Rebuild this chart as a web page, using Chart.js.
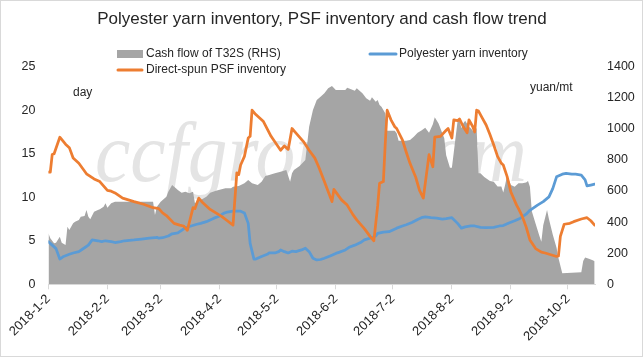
<!DOCTYPE html>
<html><head><meta charset="utf-8">
<script src="https://cdn.jsdelivr.net/npm/chart.js@4.4.1/dist/chart.umd.min.js"></script>
<style>html,body{margin:0;padding:0;background:#fff;}canvas{display:block;}</style>
</head><body>
<canvas id="c" width="643" height="357"></canvas>
<script>
const baseYear = 2018;
const chartTitle = 'Polyester yarn inventory, PSF inventory and cash flow trend';
const seriesNames = ['Cash flow of T32S (RHS)', 'Polyester yarn inventory', 'Direct-spun PSF inventory'];
const xTickLabels = ['2018-1-2','2018-2-2','2018-3-2','2018-4-2','2018-5-2','2018-6-2','2018-7-2','2018-8-2','2018-9-2','2018-10-2'];
const leftTicks = [0,5,10,15,20,25];
const rightTicks = [0,200,400,600,800,1000,1200,1400];

const cashDates = ['1-2','1-3','1-5','1-6','1-8','1-9','1-11','1-12','1-13','1-15','1-16','1-18','1-19','1-21','1-22','1-23','1-24','1-26','1-28','1-29','1-31','2-1','2-2','2-4','2-6','2-26','2-27','2-28','3-2','3-5','3-6','3-8','3-10','3-11','3-13','3-15','3-17','3-19','3-20','3-21','3-23','3-26','3-28','3-31','4-3','4-5','4-8','4-9','4-12','4-15','4-17','4-19','4-22','4-24','4-26','4-28','5-1','5-4','5-7','5-9','5-10','5-11','5-14','5-17','5-19','5-21','5-23','5-25','5-27','5-29','5-31','6-2','6-7','6-8','6-10','6-12','6-13','6-16','6-18','6-20','6-21','6-23','6-24','6-25','6-26','6-27','6-28','6-29','7-3','7-4','7-5','7-9','7-11','7-13','7-15','7-17','7-19','7-21','7-23','7-24','7-26','7-29','7-30','8-1','8-2','8-3','8-5','8-6','8-7','8-8','8-9','8-11','8-12','8-13','8-15','8-16','8-17','8-19','8-22','8-24','8-26','8-28','8-29','8-30','8-31','9-1','9-2','9-4','9-6','9-8','9-10','9-11','9-12','9-13','9-15','9-17','9-18','9-19','9-21','9-22','9-24','9-26','9-27','9-29','10-9','10-10','10-11','10-13','10-15','10-16'];
const cashValues = [328,296,264,268,306,268,253,371,349,392,403,414,435,439,478,435,418,467,478,483,499,521,493,521,531,531,446,499,531,564,596,639,618,607,589,596,585,596,521,531,542,564,589,602,611,618,618,628,632,650,671,650,639,660,697,703,714,724,735,660,714,735,761,800,1014,1121,1186,1207,1229,1261,1276,1250,1250,1265,1255,1246,1261,1229,1197,1181,1203,1175,1186,1154,1143,1121,1100,988,988,972,924,924,928,950,975,990,1008,975,1030,1074,1035,940,830,750,750,850,1050,1060,1004,1036,1052,1014,1004,988,1004,714,714,690,665,660,630,630,590,640,700,671,639,628,650,650,655,665,628,470,390,310,274,380,478,420,320,235,170,71,77,150,172,165,155,148];

const yarnDates = ['1-2','1-4','1-6','1-8','1-10','1-13','1-15','1-18','1-21','1-23','1-25','1-28','1-30','2-1','2-4','2-6','2-9','2-11','2-16','2-20','2-24','2-27','2-28','3-1','3-3','3-6','3-8','3-11','3-13','3-15','3-18','3-21','3-23','3-26','3-28','3-30','4-2','4-4','4-6','4-9','4-13','4-15','4-17','4-18','4-20','4-21','4-24','4-27','4-28','5-1','5-3','5-4','5-6','5-8','5-10','5-12','5-15','5-17','5-19','5-21','5-23','5-25','5-27','5-30','6-2','6-4','6-7','6-9','6-12','6-15','6-17','6-20','6-23','6-24','6-27','6-30','7-2','7-4','7-7','7-9','7-12','7-15','7-17','7-19','7-22','7-25','7-28','7-30','8-2','8-5','8-7','8-9','8-12','8-14','8-17','8-20','8-24','8-27','8-29','9-1','9-4','9-7','9-10','9-12','9-16','9-19','9-22','9-24','9-26','9-29','10-1','10-4','10-6','10-9','10-11','10-12','10-14','10-16'];
const yarnValues = [4.9,4.5,4.1,2.9,3.2,3.45,3.6,3.75,4.2,4.5,5.1,5.0,4.9,5.0,4.9,4.8,4.9,5.0,5.1,5.2,5.3,5.35,5.4,5.3,5.35,5.55,5.8,5.9,6.2,6.5,6.7,6.9,7.0,7.2,7.4,7.6,7.85,8.15,8.3,8.4,8.4,8.2,7.0,4.7,2.9,2.9,3.2,3.45,3.6,3.6,3.75,3.95,3.75,3.6,3.8,3.75,3.95,4.15,3.75,3.0,2.8,2.85,3.0,3.25,3.55,3.7,3.95,4.25,4.5,4.8,5.1,5.3,5.55,5.85,6.0,6.05,6.25,6.45,6.7,6.85,7.1,7.45,7.65,7.75,7.65,7.6,7.5,7.55,7.65,7.0,6.45,6.6,6.7,6.7,6.55,6.5,6.55,6.7,6.75,7.05,7.3,7.6,8.05,8.5,9.1,9.5,10.05,11.0,12.35,12.65,12.75,12.65,12.65,12.55,12.0,11.3,11.4,11.5];

const psfDates = ['1-2','1-3','1-4','1-5','1-8','1-11','1-13','1-15','1-18','1-20','1-22','1-26','1-29','2-2','2-4','2-6','2-10','2-16','2-21','2-26','3-1','3-3','3-5','3-9','3-12','3-14','3-16','3-19','3-20','3-22','3-24','3-26','3-28','3-31','4-3','4-6','4-9','4-11','4-12','4-13','4-15','4-17','4-18','4-19','4-21','4-25','4-29','5-4','5-6','5-8','5-10','5-12','5-16','5-19','5-22','5-24','5-27','5-31','6-1','6-3','6-5','6-8','6-11','6-13','6-17','6-20','6-22','6-24','6-25','6-27','6-28','6-29','7-1','7-3','7-4','7-7','7-9','7-11','7-14','7-16','7-18','7-21','7-23','7-24','7-27','7-30','7-31','8-2','8-3','8-5','8-6','8-8','8-10','8-11','8-13','8-14','8-15','8-16','8-18','8-20','8-22','8-24','8-26','8-28','8-29','8-31','9-2','9-5','9-6','9-8','9-10','9-12','9-15','9-18','9-20','9-23','9-26','9-27','9-28','9-30','10-3','10-5','10-9','10-12','10-14','10-16'];
const psfValues = [12.9,12.9,14.9,15.0,16.9,16.1,15.7,14.5,13.9,13.3,12.7,12.1,11.8,10.8,10.7,10.5,9.9,9.5,9.2,8.8,8.7,8.2,7.9,7.0,6.8,6.7,6.2,8.8,8.7,9.9,9.4,9.0,8.6,8.2,7.8,7.3,6.8,12.8,12.6,13.7,14.7,16.8,17.0,20.0,19.5,18.7,17.0,15.4,15.9,15.5,17.9,17.4,16.4,15.4,14.5,13.5,11.8,9.5,10.9,10.3,9.7,9.1,8.0,7.4,6.4,5.5,5.0,9.0,11.6,11.8,16.2,20.0,18.9,18.1,17.9,16.6,15.2,13.9,12.3,10.8,9.9,14.9,13.5,16.9,17.0,17.7,17.9,16.8,18.9,18.8,19.0,18.1,17.4,18.9,18.1,17.5,20.0,19.9,19.1,18.3,17.2,16.0,14.7,13.9,13.7,12.4,10.6,9.1,8.7,7.8,6.6,5.1,4.1,3.7,3.6,3.4,3.2,3.25,5.5,6.9,7.0,7.2,7.5,7.65,7.3,6.8];

const DAY = 86400000;
const startUTC = Date.UTC(baseYear, 0, 2);
function mdToDay(md) { const p = md.split('-').map(Number); return (Date.UTC(baseYear, p[0]-1, p[1]) - startUTC) / DAY; }
function ymdToDay(s) { const p = s.split('-').map(Number); return (Date.UTC(p[0], p[1]-1, p[2]) - startUTC) / DAY; }
function pts(dates, vals) { return dates.map((d, i) => ({ x: mdToDay(d), y: vals[i] })); }
const tickPos = xTickLabels.map(ymdToDay);
const lastDay = 287.2;

const FONT = '"Liberation Sans", Arial, sans-serif';
const TXT = '#262626';

const decor = {
  id: 'decor',
  beforeDraw(chart) {
    const ctx = chart.ctx;
    ctx.save(); ctx.fillStyle = '#fff'; ctx.fillRect(0, 0, chart.width, chart.height); ctx.restore();
  },
  beforeDatasetsDraw(chart) {
    const ctx = chart.ctx;
    ctx.save();
    ctx.font = 'italic 84px "Liberation Serif", serif';
    const t = 'ccfgroup.com';
    const w = ctx.measureText(t).width;
    ctx.translate(95, 181);
    ctx.scale(432 / w, 1);
    ctx.fillStyle = '#e4e4e4';
    ctx.textBaseline = 'alphabetic';
    ctx.fillText(t, 0, 0);
    ctx.restore();
  },
  afterDraw(chart) {
    const ctx = chart.ctx;
    ctx.save();
    ctx.fillStyle = TXT;
    ctx.textBaseline = 'middle';
    ctx.font = '17px ' + FONT;
    ctx.textAlign = 'center';
    ctx.fillText(chartTitle, 322, 19);
    ctx.textAlign = 'left';
    ctx.font = '12px ' + FONT;
    ctx.fillStyle = '#a5a5a5';
    ctx.fillRect(117, 50, 26, 8);
    ctx.lineWidth = 3; ctx.lineCap = 'round';
    ctx.strokeStyle = '#5b9bd5';
    ctx.beginPath(); ctx.moveTo(370, 54); ctx.lineTo(396, 54); ctx.stroke();
    ctx.strokeStyle = '#ed7d31';
    ctx.beginPath(); ctx.moveTo(118, 70); ctx.lineTo(142, 70); ctx.stroke();
    ctx.fillStyle = TXT;
    ctx.fillText(seriesNames[0], 146, 54);
    ctx.fillText(seriesNames[1], 399, 54);
    ctx.fillText(seriesNames[2], 146, 70);
    ctx.fillText('day', 73, 93);
    ctx.fillText('yuan/mt', 530, 88);
    ctx.strokeStyle = '#d9d9d9'; ctx.lineWidth = 1;
    ctx.strokeRect(0.5, 0.5, chart.width - 1, chart.height - 1);
    ctx.restore();
  }
};

new Chart(document.getElementById('c'), {
  type: 'line',
  data: {
    datasets: [
      { label: seriesNames[2], data: pts(psfDates, psfValues), yAxisID: 'y', borderColor: '#ed7d31', borderWidth: 2.75, pointRadius: 0, fill: false, tension: 0, borderJoinStyle: 'round', borderCapStyle: 'round', order: 1 },
      { label: seriesNames[1], data: pts(yarnDates, yarnValues), yAxisID: 'y', borderColor: '#5b9bd5', borderWidth: 2.75, pointRadius: 0, fill: false, tension: 0, borderJoinStyle: 'round', borderCapStyle: 'round', order: 2 },
      { label: seriesNames[0], data: pts(cashDates, cashValues), yAxisID: 'y1', borderWidth: 0, borderColor: 'rgba(0,0,0,0)', backgroundColor: '#a5a5a5', pointRadius: 0, fill: 'origin', tension: 0, order: 3 }
    ]
  },
  options: {
    responsive: false,
    animation: false,
    devicePixelRatio: 1,
    layout: { padding: { top: 66.7, left: 0, right: 0, bottom: 0 } },
    plugins: { legend: { display: false }, title: { display: false }, tooltip: { enabled: false } },
    scales: {
      x: {
        type: 'linear', min: 0, max: lastDay,
        afterBuildTicks: s => { s.ticks = tickPos.map(v => ({ value: v })); },
        afterFit: s => { s.height = 72.7; },
        ticks: {
          autoSkip: false, minRotation: 45, maxRotation: 45, padding: 2,
          color: TXT, font: { family: FONT, size: 13 },
          callback: v => { const i = tickPos.indexOf(v); return i >= 0 ? xTickLabels[i] : ''; }
        },
        grid: { drawOnChartArea: false, drawTicks: true, tickLength: 5, color: '#d9d9d9' },
        border: { display: true, color: '#d9d9d9' }
      },
      y: {
        position: 'left', min: 0, max: 25,
        afterBuildTicks: s => { s.ticks = leftTicks.map(v => ({ value: v })); },
        afterFit: s => { s.width = 48.4; },
        ticks: { padding: 13, color: TXT, font: { family: FONT, size: 12.5 }, callback: v => String(v) },
        grid: { display: false, drawTicks: false },
        border: { display: false }
      },
      y1: {
        position: 'right', min: 0, max: 1400,
        afterBuildTicks: s => { s.ticks = rightTicks.map(v => ({ value: v })); },
        afterFit: s => { s.width = 48; },
        ticks: { padding: 12, color: TXT, font: { family: FONT, size: 12.5 }, callback: v => String(v) },
        grid: { display: false, drawTicks: false },
        border: { display: false }
      }
    }
  },
  plugins: [decor]
});
</script>
</body></html>
